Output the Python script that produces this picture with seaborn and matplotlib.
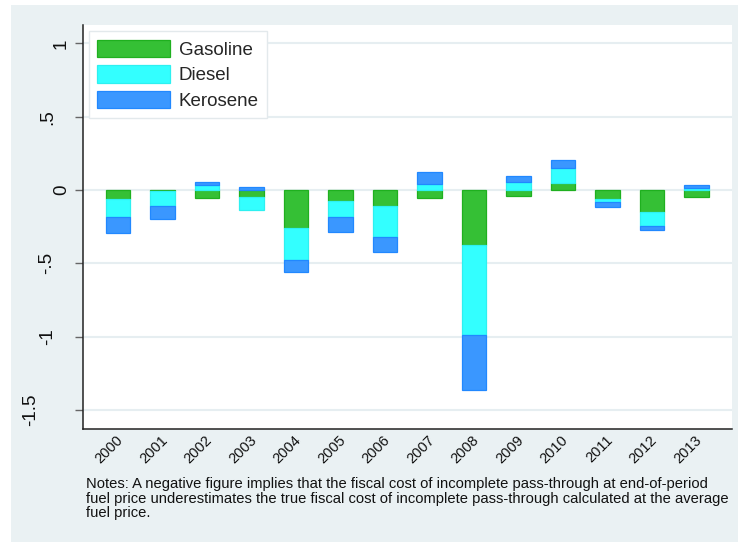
import numpy as np
import pandas as pd
import matplotlib
matplotlib.use("Agg")
import matplotlib.pyplot as plt
from matplotlib.patches import Patch, Rectangle
from matplotlib.transforms import ScaledTranslation
import seaborn as sns

# ---- data ----
years = ["2000", "2001", "2002", "2003", "2004", "2005", "2006",
         "2007", "2008", "2009", "2010", "2011", "2012", "2013"]
gasoline = [-0.063, -0.007, -0.056, -0.045, -0.260, -0.075, -0.108,
            -0.056, -0.377, -0.038, 0.045, -0.061, -0.149, -0.045]
diesel = [-0.122, -0.100, 0.036, -0.090, -0.215, -0.110, -0.215,
          0.043, -0.612, 0.052, 0.106, -0.023, -0.097, 0.016]
kerosene = [-0.107, -0.093, 0.020, 0.020, -0.083, -0.102, -0.102,
            0.081, -0.376, 0.045, 0.056, -0.029, -0.025, 0.016]
series_names = ["Gasoline", "Diesel", "Kerosene"]
ytick_vals = [1, 0.5, 0, -0.5, -1, -1.5]
ytick_labels = ["1", ".5", "0", "-.5", "-1", "-1.5"]
notes = ("Notes: A negative figure implies that the fiscal cost of incomplete pass-through at end-of-period\n"
         "fuel price underestimates the true fiscal cost of incomplete pass-through calculated at the average\n"
         "fuel price.")

# ---- style ----
fills = ["#35c035", "#33ffff", "#3a97ff"]
edges = ["#1fb01f", "#2ef0f0", "#2188ff"]
bg = "#eaf1f3"
sns.set_theme(style="white")
plt.rcParams["font.family"] = ["Liberation Sans", "DejaVu Sans"]

W, H = 738, 542
fig = plt.figure(figsize=(W / 100, H / 100), dpi=100)
fig.patch.set_facecolor("white")
fig.add_artist(Rectangle((11 / W, 0), 1 - 11 / W, 1 - 5 / H, transform=fig.transFigure,
                         facecolor=bg, edgecolor="none", zorder=-10))

ax = fig.add_axes([82.5 / W, 1 - 429 / H, (732 - 82.5) / W, (429 - 25) / H])
ax.set_facecolor("white")

df = pd.DataFrame({"year": years, "Gasoline": gasoline, "Diesel": diesel, "Kerosene": kerosene})

pos_base = np.zeros(len(years))
neg_base = np.zeros(len(years))
for name, fc, ec in zip(series_names, fills, edges):
    vals = df[name].to_numpy()
    bottom = np.where(vals >= 0, pos_base, neg_base)
    sns.barplot(data=df, x="year", y=name, order=years, bottom=bottom, color=fc,
                saturation=1, width=0.555, edgecolor=ec, linewidth=0.9,
                errorbar=None, ax=ax, zorder=3)
    pos_base = pos_base + np.where(vals >= 0, vals, 0)
    neg_base = neg_base + np.where(vals < 0, vals, 0)

ax.set_xlim(-0.8, 13.8)
ax.set_ylim(-1.629, 1.125)
ax.set_xlabel("")
ax.set_ylabel("")

# grid
for v in ytick_vals:
    ax.axhline(v, color="#e6eef1", lw=1.5, zorder=1)

# spines
for s in ["top", "right"]:
    ax.spines[s].set_visible(False)
for s in ["left", "bottom"]:
    ax.spines[s].set_color("#222222")
    ax.spines[s].set_linewidth(1.1)

# y ticks
ax.tick_params(axis="y", which="major", left=True, length=5.8, width=1, color="#666666",
               pad=9.0, labelsize=13.5, labelcolor="#111111")
ax.tick_params(axis="x", which="major", bottom=False, length=0, pad=6.7,
               labelsize=10.5, labelcolor="#111111")
ax.set_yticks(ytick_vals)
ax.set_yticklabels(ytick_labels, rotation=90, ha="center", va="center")
ydx = [-1, -14, 0, -15, -14, -31]  # pixel offsets of Stata-like vertical labels
for lbl, dx in zip(ax.get_yticklabels(), ydx):
    lbl.set_transform(lbl.get_transform() + ScaledTranslation(dx / 100, 0, fig.dpi_scale_trans))

ax.set_xticks(range(len(years)))
ax.set_xticklabels(years, rotation=45, ha="right", va="center", rotation_mode="anchor")
for lbl in ax.get_xticklabels():
    lbl.set_transform(lbl.get_transform() + ScaledTranslation(3 / 100, 0, fig.dpi_scale_trans))

# legend
handles = [Patch(facecolor=fc, edgecolor=ec, linewidth=0.9) for fc, ec in zip(fills, edges)]
leg = ax.legend(handles, series_names, loc="upper left", bbox_to_anchor=(0, 1),
                borderaxespad=0.33, frameon=True, fancybox=False, framealpha=1,
                edgecolor="#e3e9ec", handlelength=3.9, handleheight=1.05,
                handletextpad=0.45, labelspacing=0.35, borderpad=0.45, fontsize=13.5)
leg.get_frame().set_linewidth(1)
leg.set_zorder(5)

fig.text(86 / W, 1 - 477 / H, notes, ha="left", va="top", fontsize=10.6,
         linespacing=1.05, color="#111111")

fig.savefig("out.png", dpi=100, facecolor=fig.get_facecolor())
